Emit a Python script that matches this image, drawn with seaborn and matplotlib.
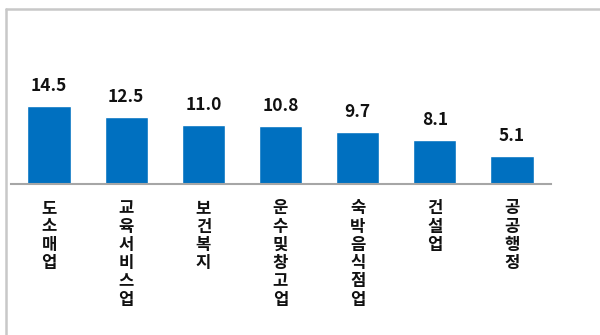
import matplotlib
matplotlib.use("Agg")
import matplotlib.pyplot as plt
import seaborn as sns
import pandas as pd
from matplotlib.lines import Line2D

# Industry shares (%)
industries = ["도소매업", "교육서비스업", "보건복지", "운수및창고업", "숙박음식점업", "건설업", "공공행정"]
values = [14.5, 12.5, 11.0, 10.8, 9.7, 8.1, 5.1]

df = pd.DataFrame({"industry": industries, "value": values})

sns.set_theme(style="white")
plt.rcParams["font.family"] = ["Noto Sans CJK KR", "DejaVu Sans"]

W, H = 600, 335
fig = plt.figure(figsize=(W / 100, H / 100), dpi=100)

# plot area in pixel coordinates
left, right, top, bottom = 10.5, 550.5, 20, 184
ax = fig.add_axes([left / W, 1 - bottom / H, (right - left) / W, (bottom - top) / H])

sns.barplot(data=df, x="industry", y="value", color="#0070C0", saturation=1,
            width=0.56, ax=ax)

ax.set_xlim(-0.5, len(industries) - 0.5)
ax.set_ylim(0, (bottom - top) / 5.4)

for i, v in enumerate(values):
    ax.annotate(f"{v:.1f}", (i, v), xytext=(0, 11), textcoords="offset pixels",
                ha="center", va="bottom", fontsize=12.5, fontweight="bold",
                color="#111111")

ax.set_xticks(range(len(industries)))
ax.set_xticklabels(["\n".join(name) for name in industries],
                   fontsize=12, fontweight="bold", color="#111111",
                   linespacing=1.02, va="top")
ax.tick_params(axis="x", length=0, pad=11)
ax.set_yticks([])
ax.set_xlabel("")
ax.set_ylabel("")

for s in ["top", "right", "left"]:
    ax.spines[s].set_visible(False)
ax.spines["bottom"].set_color("#a6a6a6")
ax.spines["bottom"].set_linewidth(1.5)

# outer chart frame (top and left edges)
frame_col = "#c8c8c8"
fig.add_artist(Line2D([6 / W, 1], [1 - 8.5 / H, 1 - 8.5 / H], transform=fig.transFigure,
                      color=frame_col, linewidth=1.8))
fig.add_artist(Line2D([6 / W, 6 / W], [0, 1 - 8.5 / H], transform=fig.transFigure,
                      color=frame_col, linewidth=1.8))

fig.savefig("out.png", dpi=100)
